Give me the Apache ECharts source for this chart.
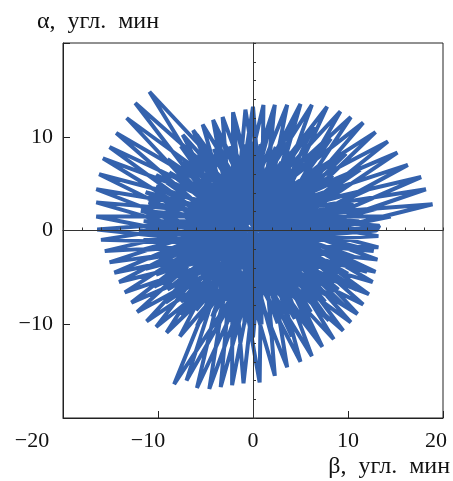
<!DOCTYPE html>
<html>
<head>
<meta charset="utf-8">
<script src="https://cdn.jsdelivr.net/npm/echarts@6/dist/echarts.min.js"></script>
<style>
  html, body { margin: 0; padding: 0; background: #fff; }
  #chart { width: 453px; height: 481px; }
</style>
</head>
<body>
<div id="chart"></div>
<script>
// outer tips of the trace, upper half (angle ~0..180 deg)
var tipAx = [13.3, 14.5, 18.9, 18.2, 17.7, 16.3, 15.2, 14.2, 12.9, 11.6, 10.3, 9.2, 7.8, 6.2, 5.0, 3.6, 2.3, 1.1, 0.0,
             -0.8, -2.1, -3.2, -4.2, -5.3, -6.3, -7.4, -10.9, -12.4, -13.3, -14.4, -15.1, -15.8, -16.2, -16.5, -16.5, -16.5, -16.4];
var tipAy = [0.5, 1.5, 2.8, 4.4, 5.7, 7.0, 8.3, 9.5, 10.5, 11.5, 12.1, 12.7, 13.2, 13.4, 13.5, 13.4, 13.4, 13.4, 13.2,
             12.9, 12.6, 12.1, 11.8, 11.3, 10.7, 10.2, 14.8, 13.6, 12.0, 10.4, 8.9, 7.7, 6.0, 4.4, 3.0, 1.5, 0.1];
// lower half (angle ~180..360 deg)
var tipBx = [-16.0, -15.6, -15.1, -14.6, -14.1, -13.5, -12.8, -12.2, -11.2, -10.2, -9.1, -7.7, -8.3, -7.0, -5.9, -4.6, -3.4, -2.2,
             -1.0, 0.7, 2.3, 3.6, 5.0, 6.2, 7.3, 8.5, 9.5, 10.3, 11.0, 11.6, 12.2, 12.6, 12.9, 13.1, 13.2, 13.2];
var tipBy = [-1.0, -2.2, -3.4, -4.5, -5.5, -6.6, -7.7, -8.7, -9.7, -10.3, -10.9, -11.3, -16.4, -16.0, -16.8, -16.9, -16.7, -16.5,
             -16.3, -16.2, -15.5, -14.6, -14.0, -13.4, -12.4, -11.6, -10.7, -9.8, -8.9, -7.9, -6.8, -5.5, -4.4, -3.1, -1.8, -0.6];
// ring of turning points under the long teeth (the open lattice), every ~10 deg
var ringX = [13.0, 13.0, 12.4, 11.3, 9.8, 8.2, 6.4, 4.4, 2.2, 0.0, -2.1, -4.1, -5.9, -7.6, -9.0, -10.2, -11.3, -11.8,
             -12.0, -11.8, -11.3, -10.4, -9.2, -7.6, -5.9, -4.0, -2.0, 0.0, 2.0, 4.1, 6.1, 8.0, 9.7, 10.9, 12.0, 12.7];
var ringY = [0.0, 2.3, 4.5, 6.5, 8.2, 9.8, 11.1, 12.0, 12.6, 12.6, 12.1, 11.3, 10.2, 9.0, 7.6, 5.9, 4.1, 2.1,
             0.0, -2.1, -4.1, -6.0, -7.7, -9.0, -10.2, -10.9, -11.2, -11.4, -11.4, -11.3, -10.6, -9.6, -8.1, -6.3, -4.4, -2.2];
// edge of the solid core, every ~10 deg
var innerX = [11.0, 10.6, 9.6, 8.4, 6.9, 5.4, 3.9, 2.4, 0.8, -0.8, -2.4, -4.1, -5.7, -7.4, -8.8, -10.2, -11.0, -11.5,
              -11.5, -11.0, -10.2, -9.0, -7.6, -6.0, -4.3, -2.6, -0.9, 0.9, 2.6, 4.4, 6.1, 7.6, 9.0, 10.0, 10.6, 11.0];
var innerY = [1.0, 2.8, 4.5, 5.9, 6.9, 7.8, 8.4, 8.9, 9.2, 9.2, 9.0, 8.7, 8.2, 7.4, 6.2, 4.7, 3.0, 1.0,
              -1.0, -3.0, -4.7, -6.3, -7.6, -8.5, -9.2, -9.7, -10.0, -10.0, -9.9, -9.4, -8.7, -7.6, -6.3, -4.6, -2.8, -1.0];
// short swings through the very centre, in drawing order
var coreX = [7.8, -7.6, 7.2, -7.3, 5.6, -5.8, 3.2, -3.0, 0.4, -0.2, -2.8, 3.0, -5.4, 5.6, -7.2, 7.4, -7.9, 7.8];
var coreY = [1.2, -0.8, -3.4, 3.0, -5.8, 5.5, -7.4, 7.6, -8.0, 8.0, -7.5, 7.3, -6.0, 5.8, -3.6, 3.3, -1.0, 1.4];

var xTicks = [-20, -10, 0, 10, 20];
var yTicks = [-10, 0, 10];

// the beam swings across the centre from one turning point to a nearly opposite one
var trace = [];
function sweep(xs, ys, skip) {
    var k = 0;
    for (var c = 0; c <= xs.length; c++) {
        trace.push([xs[k], ys[k]]);
        k = (k + skip) % xs.length;
    }
}
var tx = tipAx.concat(tipBx);
var ty = tipAy.concat(tipBy);
sweep(tx, ty, 39);
sweep(ringX, ringY, 17);
sweep(ringX, ringY, 19);
sweep(innerX, innerY, 17);
sweep(innerX, innerY, 19);
sweep(coreX, coreY, 1);

var font = 'Liberation Serif';
var myChart = echarts.init(document.getElementById('chart'));

var option = {
    animation: false,
    grid: {
        left: 63, right: 10, top: 43, bottom: 63,
        show: true, borderColor: '#222', borderWidth: 1
    },
    xAxis: [{
        type: 'value', min: -20, max: 20, interval: 10,
        axisLine: { onZero: false, lineStyle: { color: '#222' } },
        axisTick: { inside: true, length: 7, lineStyle: { color: '#222' } },
        splitLine: { show: false },
        axisLabel: {
            margin: 12, color: '#111', fontFamily: font, fontSize: 22,
            formatter: function (v) {
                if (xTicks.indexOf(v) < 0) return '';
                if (v == -20) return '{l|\u221220}';
                if (v < 0) return '{m|\u2212' + (-v) + '}';
                if (v == 20) return '{r|20}';
                return '' + v;
            },
            rich: {
                l: { fontFamily: font, fontSize: 22, color: '#111', padding: [0, 62, 0, 0] },
                m: { fontFamily: font, fontSize: 22, color: '#111', padding: [0, 20, 0, 0] },
                r: { fontFamily: font, fontSize: 22, color: '#111', padding: [0, 14, 0, 0] }
            }
        }
    }, {
        // axis through the origin
        type: 'value', min: -20, max: 20, interval: 2, position: 'top', z: 10,
        axisLine: { onZero: true, onZeroAxisIndex: 0, lineStyle: { color: '#333', width: 1 } },
        axisTick: { inside: false, length: 3, lineStyle: { color: '#333' } },
        axisLabel: { show: false },
        splitLine: { show: false }
    }],
    yAxis: [{
        type: 'value', min: -20, max: 20, interval: 10,
        axisLine: { onZero: false, lineStyle: { color: '#222' } },
        axisTick: { inside: true, length: 7, lineStyle: { color: '#222' } },
        splitLine: { show: false },
        axisLabel: {
            margin: 10, color: '#111', fontFamily: font, fontSize: 22,
            formatter: function (v) {
                if (yTicks.indexOf(v) < 0) return '';
                return v < 0 ? '\u2212' + (-v) : '' + v;
            }
        }
    }, {
        type: 'value', min: -20, max: 20, interval: 2, position: 'right', z: 10,
        axisLine: { onZero: true, onZeroAxisIndex: 0, lineStyle: { color: '#333', width: 1 } },
        axisTick: { inside: false, length: 3, lineStyle: { color: '#333' } },
        axisLabel: { show: false },
        splitLine: { show: false }
    }],
    graphic: [{
        type: 'text', left: 37, top: 10,
        style: { text: '\u03b1,  угл.  мин', font: '24px "Liberation Serif"', fill: '#111' }
    }, {
        type: 'text', right: 3, top: 455,
        style: { text: '\u03b2,  угл.  мин', font: '24px "Liberation Serif"', fill: '#111' }
    }],
    series: [{
        type: 'line',
        data: trace,
        showSymbol: false,
        symbol: 'none',
        xAxisIndex: 0, yAxisIndex: 0,
        lineStyle: { color: '#3462ad', width: 4 }
    }]
};

myChart.setOption(option);
</script>
</body>
</html>
